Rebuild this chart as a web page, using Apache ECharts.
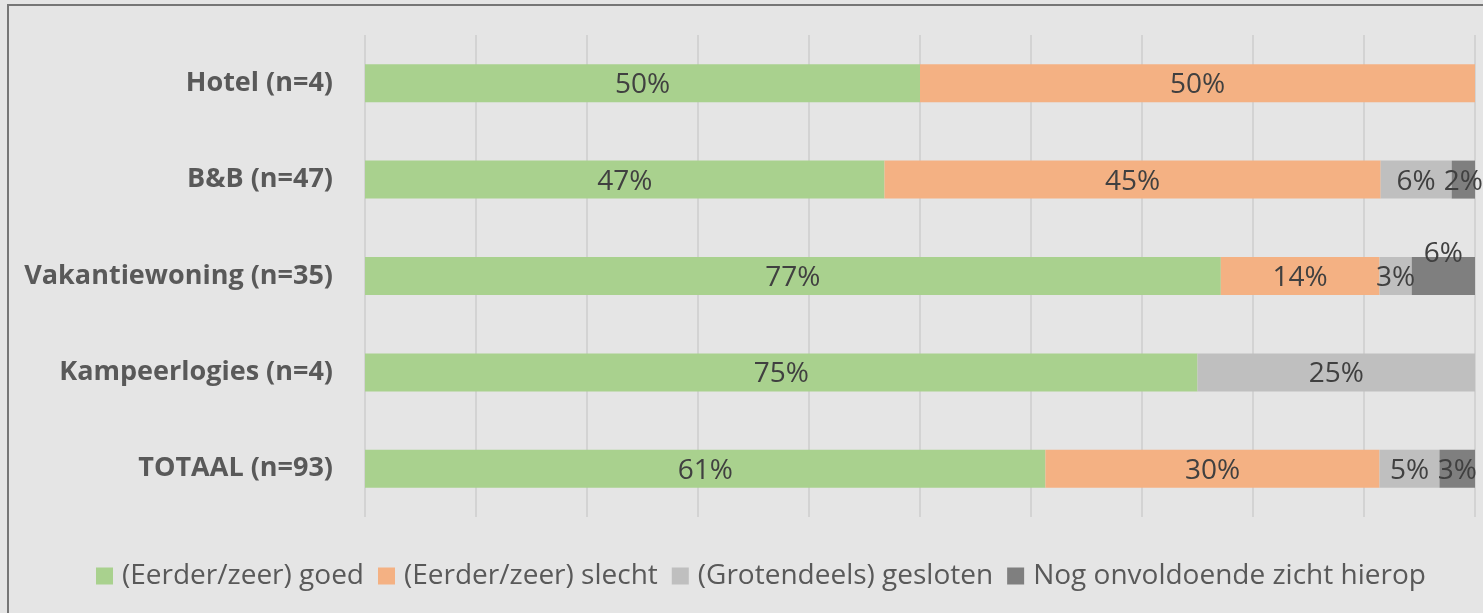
<!DOCTYPE html>
<html>
<head>
<meta charset="utf-8">
<script src="https://cdn.jsdelivr.net/npm/echarts@6/dist/echarts.min.js"></script>
<style>
  html, body { margin: 0; padding: 0; background: #e5e5e5; overflow: hidden; }
  #frame { position: absolute; left: 7px; top: 4px; width: 1500px; height: 700px; border: 2px solid #767676; box-sizing: border-box; }
  #chart { position: absolute; left: 0; top: 0; width: 1483px; height: 613px; }
</style>
</head>
<body>
<div id="frame"></div>
<div id="chart"></div>
<script>
  const categories = ["Hotel (n=4)", "B&B (n=47)", "Vakantiewoning (n=35)", "Kampeerlogies (n=4)", "TOTAAL (n=93)"]
  const seriesNames = ["(Eerder/zeer) goed", "(Eerder/zeer) slecht", "(Grotendeels) gesloten", "Nog onvoldoende zicht hierop"]
  const goed = [50, 46.8, 77.1, 75, 61.3]
  const slecht = [50, 44.7, 14.3, 0, 30.1]
  const gesloten = [0, 6.4, 2.9, 25, 5.4]
  const onvoldoende = [0, 2.1, 5.7, 0, 3.2]
  const colors = ["#a9d18e", "#f4b183", "#bfbfbf", "#7f7f7f"]

  const chart = echarts.init(document.getElementById("chart"))

  function makeSeries(name, values, color) {
    return {
      name: name,
      type: "bar",
      stack: "total",
      barWidth: 38,
      itemStyle: { color: color },
      label: {
        show: true,
        position: "inside",
        color: "#404040",
        fontSize: 28,
        fontFamily: "Open Sans",
        offset: [0, 2],
        formatter: (p) => (p.value > 0 ? Math.round(p.value) + "%" : ""),
      },
      data: values.map((v) => v),
    }
  }

  const series = [
    makeSeries(seriesNames[0], goed, colors[0]),
    makeSeries(seriesNames[1], slecht, colors[1]),
    makeSeries(seriesNames[2], gesloten, colors[2]),
    makeSeries(seriesNames[3], onvoldoende, colors[3]),
  ]
  // Vakantiewoning 6% label sits above the bar
  series[3].data[2] = { value: onvoldoende[2], label: { offset: [0, -22] } }

  const option = {
    backgroundColor: "transparent",
    animation: false,
    grid: { top: 35, bottom: 96, left: 365, right: 8 },
    xAxis: {
      type: "value",
      min: 0,
      max: 100,
      interval: 10,
      axisLabel: { show: false },
      axisLine: { show: false },
      axisTick: { show: false },
      splitLine: { show: true, lineStyle: { color: "#d3d3d3", width: 2 } },
    },
    yAxis: {
      type: "category",
      inverse: true,
      data: categories,
      axisLine: { show: false },
      axisTick: { show: false },
      axisLabel: {
        color: "#595959",
        fontSize: 27,
        fontWeight: "bold",
        fontFamily: "Open Sans",
        margin: 32,
        padding: [4, 0, 0, 0],
      },
    },
    legend: {
      bottom: 18,
      left: 91,
      itemWidth: 17,
      itemHeight: 17,
      itemGap: 14,
      icon: "rect",
      textStyle: { color: "#595959", fontSize: 28, fontFamily: "Open Sans", padding: [0, 0, 0, 4] },
      data: seriesNames,
    },
    series: series,
  }
  chart.setOption(option)
</script>
</body>
</html>
